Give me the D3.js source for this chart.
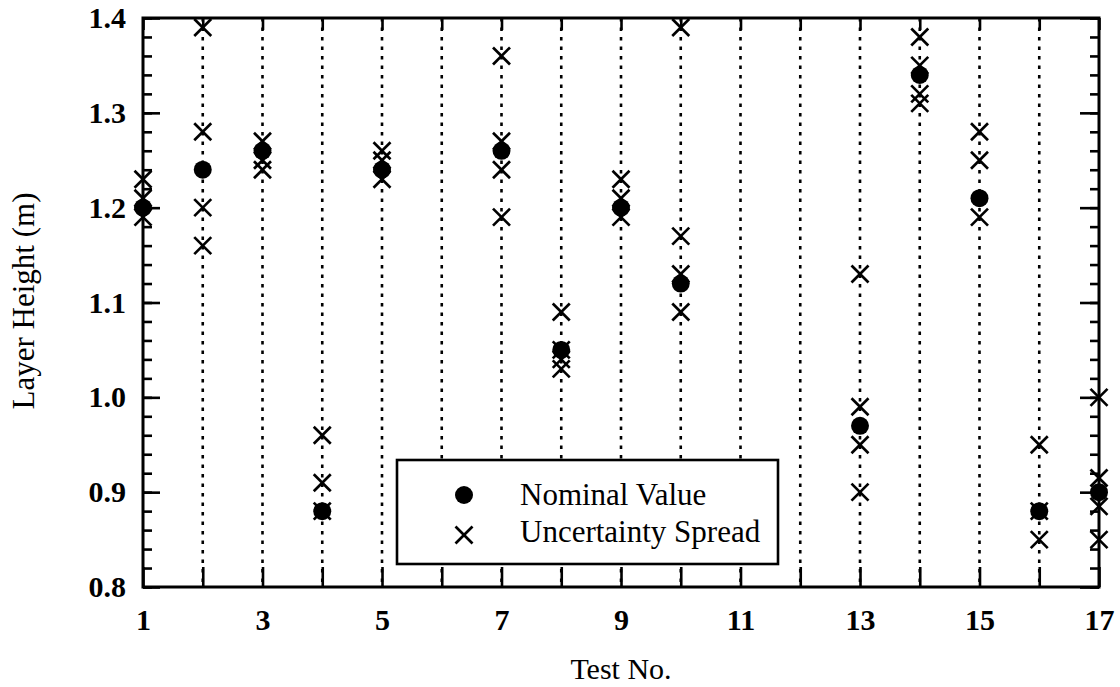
<!DOCTYPE html>
<html>
<head>
<meta charset="utf-8">
<script src="https://cdn.jsdelivr.net/npm/d3@7"></script>
<style>
  html, body { margin: 0; padding: 0; background: #fff; }
  svg { display: block; }
</style>
</head>
<body>
<svg id="chart" width="1120" height="687"></svg>
<script>
// ---- data ----
const testNos = [1, 2, 3, 4, 5, 7, 8, 9, 10, 13, 14, 15, 16, 17];
const nominal = [1.20, 1.24, 1.26, 0.88, 1.24, 1.26, 1.05, 1.20, 1.12, 0.97, 1.34, 1.21, 0.88, 0.90];
const spread = [
  [1.23, 1.21, 1.19],
  [1.39, 1.28, 1.20, 1.16],
  [1.27, 1.25, 1.24],
  [0.96, 0.91, 0.88],
  [1.26, 1.25, 1.23],
  [1.36, 1.27, 1.24, 1.19],
  [1.09, 1.05, 1.04, 1.03],
  [1.23, 1.21, 1.19],
  [1.39, 1.17, 1.13, 1.09],
  [1.13, 0.99, 0.95, 0.90],
  [1.38, 1.35, 1.32, 1.31],
  [1.28, 1.25, 1.19],
  [0.95, 0.88, 0.85],
  [1.00, 0.915, 0.885, 0.85]
];
const xTickLabels = [1, 3, 5, 7, 9, 11, 13, 15, 17];
const yMajorTicks = [0.8, 0.9, 1.0, 1.1, 1.2, 1.3, 1.4];
const legendLabels = ["Nominal Value", "Uncertainty Spread"];
const xTitle = "Test No.";
const yTitle = "Layer Height (m)";

// ---- layout ----
const FONT = "'Liberation Serif', 'Times New Roman', Times, serif";
const L = 143, R = 1099, T = 18, B = 587;
const svg = d3.select("#chart");
const x = d3.scaleLinear().domain([1, 17]).range([L, R]);
const y = d3.scaleLinear().domain([0.8, 1.4]).range([B, T]);

const allTests = d3.range(1, 18);
const innerTests = d3.range(2, 17);
const yMinor = d3.range(0, 31).map(i => +(0.8 + i * 0.02).toFixed(2));

// dotted vertical grid
svg.append("g").selectAll("line").data(innerTests).join("line")
  .attr("x1", d => x(d)).attr("x2", d => x(d))
  .attr("y1", T).attr("y2", B)
  .attr("stroke", "#000").attr("stroke-width", 2.6)
  .attr("stroke-dasharray", "3.5,6");

function styleAxis(g) {
  g.select(".domain").remove();
  g.selectAll(".tick line").attr("stroke", "#000").attr("stroke-width", 2.6);
  g.selectAll(".tick text")
    .attr("font-family", FONT).attr("font-weight", "bold").attr("font-size", 30).attr("fill", "#000");
}

// bottom axis
svg.append("g").attr("transform", `translate(0,${B})`)
  .call(d3.axisBottom(x).tickValues(allTests).tickSizeInner(-20).tickSizeOuter(0).tickPadding(22)
    .tickFormat(d => xTickLabels.includes(d) ? d : ""))
  .call(styleAxis);
// top axis
svg.append("g").attr("transform", `translate(0,${T})`)
  .call(d3.axisTop(x).tickValues(allTests).tickSizeInner(-12).tickSizeOuter(0).tickFormat(""))
  .call(styleAxis);
// left axis
svg.append("g").attr("transform", `translate(${L},0)`)
  .call(d3.axisLeft(y).tickValues(yMinor).tickSizeInner(-9).tickSizeOuter(0).tickFormat(""))
  .call(styleAxis);
svg.append("g").attr("transform", `translate(${L},0)`)
  .call(d3.axisLeft(y).tickValues(yMajorTicks).tickSizeInner(-17).tickSizeOuter(0).tickPadding(17)
    .tickFormat(d3.format(".1f")))
  .call(styleAxis);
// right axis
svg.append("g").attr("transform", `translate(${R},0)`)
  .call(d3.axisRight(y).tickValues(yMinor).tickSizeInner(-9).tickSizeOuter(0).tickFormat(""))
  .call(styleAxis);
svg.append("g").attr("transform", `translate(${R},0)`)
  .call(d3.axisRight(y).tickValues(yMajorTicks).tickSizeInner(-19).tickSizeOuter(0).tickFormat(""))
  .call(styleAxis);

// border
svg.append("rect").attr("x", L).attr("y", T).attr("width", R - L).attr("height", B - T)
  .attr("fill", "none").attr("stroke", "#000").attr("stroke-width", 3);

// markers
const xs = 8.5;
function drawX(g, cx, cy) {
  g.append("line").attr("x1", cx - xs).attr("y1", cy - xs).attr("x2", cx + xs).attr("y2", cy + xs);
  g.append("line").attr("x1", cx - xs).attr("y1", cy + xs).attr("x2", cx + xs).attr("y2", cy - xs);
}
const gX = svg.append("g").attr("stroke", "#000").attr("stroke-width", 2.7);
testNos.forEach((t, i) => spread[i].forEach(v => drawX(gX, x(t), y(v))));

svg.append("g").selectAll("circle").data(testNos).join("circle")
  .attr("cx", d => x(d)).attr("cy", (d, i) => y(nominal[i])).attr("r", 9).attr("fill", "#000");

// legend
const lg = svg.append("g");
lg.append("rect").attr("x", 397).attr("y", 460).attr("width", 381).attr("height", 104)
  .attr("fill", "#fff").attr("stroke", "#000").attr("stroke-width", 2.6);
lg.append("circle").attr("cx", 464).attr("cy", 495).attr("r", 9).attr("fill", "#000");
const lgX = lg.append("g").attr("stroke", "#000").attr("stroke-width", 2.7);
drawX(lgX, 464, 535);
lg.selectAll("text").data(legendLabels).join("text")
  .attr("x", 520).attr("y", (d, i) => i === 0 ? 505 : 542)
  .attr("font-family", FONT)
  .attr("font-size", 31).attr("fill", "#000").text(d => d);

// axis titles
svg.append("text").attr("x", (L + R) / 2).attr("y", 679).attr("text-anchor", "middle")
  .attr("font-family", FONT).attr("font-size", 30)
  .attr("fill", "#000").text(xTitle);
svg.append("text").attr("transform", "translate(34,301) rotate(-90)").attr("text-anchor", "middle")
  .attr("font-family", FONT).attr("font-size", 31)
  .attr("fill", "#000").text(yTitle);
</script>
</body>
</html>
